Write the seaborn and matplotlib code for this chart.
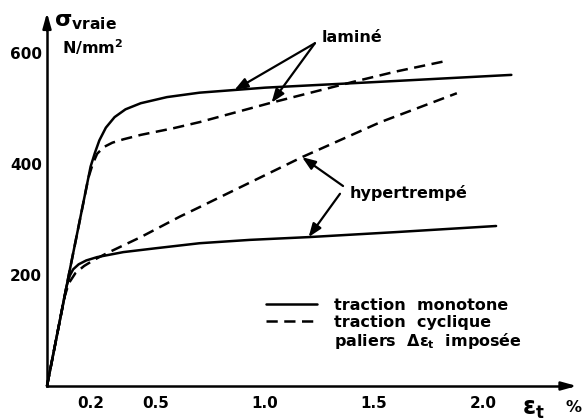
import numpy as np
import pandas as pd
import matplotlib
matplotlib.use("Agg")
import matplotlib.pyplot as plt
from matplotlib.lines import Line2D
import seaborn as sns

# Courbes de traction (eps en %, sigma en N/mm2)
lam_mono_x = [0, 0.10, 0.20, 0.22, 0.24, 0.27, 0.31, 0.36, 0.43, 0.55, 0.70, 1.00, 1.50, 2.13]
lam_mono_y = [0, 200, 395, 420, 442, 465, 484, 498, 509, 520, 528, 537, 547, 560]

lam_cyc_x = [0, 0.10, 0.19, 0.21, 0.23, 0.26, 0.30, 0.35, 0.43, 0.58, 0.70, 1.02, 1.40, 1.60, 1.83]
lam_cyc_y = [0, 200, 375, 400, 418, 430, 438, 444, 452, 464, 475, 509, 547, 566, 585]

hyp_mono_x = [0, 0.09, 0.105, 0.12, 0.145, 0.18, 0.23, 0.35, 0.50, 0.70, 0.93, 1.20, 1.60, 2.06]
hyp_mono_y = [0, 180, 199, 210, 219, 226, 232, 241, 248, 257, 263, 268, 277, 288]

hyp_cyc_x = [0, 0.08, 0.10, 0.13, 0.17, 0.22, 0.28, 0.43, 0.61, 0.70, 1.17, 1.53, 1.88]
hyp_cyc_y = [0, 160, 185, 203, 216, 228, 240, 268, 305, 322, 412, 475, 527]

x_ticks = [0.2, 0.5, 1.0, 1.5, 2.0]
x_tick_labels = ["0.2", "0.5", "1.0", "1.5", "2.0"]
y_ticks = [200, 300, 400, 500, 600]
y_tick_labels = ["200", "", "400", "", "600"]

curves = [
    ("laminé", "monotone", lam_mono_x, lam_mono_y),
    ("laminé", "cyclique", lam_cyc_x, lam_cyc_y),
    ("hypertrempé", "monotone", hyp_mono_x, hyp_mono_y),
    ("hypertrempé", "cyclique", hyp_cyc_x, hyp_cyc_y),
]
rows = []
for mat, essai, xs, ys in curves:
    for x, y in zip(xs, ys):
        rows.append({"eps": x, "sigma": y, "courbe": mat + " " + essai, "essai": essai})
df = pd.DataFrame(rows)

sns.set_style("white")
plt.rcParams["font.family"] = ["DejaVu Sans"]
plt.rcParams["font.weight"] = "bold"
plt.rcParams["text.color"] = "black"
plt.rcParams["mathtext.fontset"] = "custom"
plt.rcParams["mathtext.rm"] = "DejaVu Sans:bold"
plt.rcParams["mathtext.it"] = "DejaVu Sans:bold"
plt.rcParams["mathtext.bf"] = "DejaVu Sans:bold"

W, H = 583, 420
fig = plt.figure(figsize=(W / 100, H / 100), dpi=100)
ax = fig.add_axes([0, 0, 1, 1])

# pixel mapping: x_px = 47 + 218*eps ; y_px = 386 - sigma/1.8
ax.set_xlim(-47 / 218, (W - 47) / 218)
ax.set_ylim(-(H - 386) * 1.8, 386 * 1.8)

dash = (4.5, 2.6)
sns.lineplot(data=df, x="eps", y="sigma", style="essai", units="courbe",
             estimator=None, sort=False, color="black", lw=1.8,
             dashes={"monotone": "", "cyclique": dash}, legend=False, ax=ax)

# axes with arrows
for s in ["top", "right"]:
    ax.spines[s].set_visible(False)
ax.spines["left"].set_position(("data", 0))
ax.spines["bottom"].set_position(("data", 0))
ax.spines["left"].set_bounds(0, 655)
ax.spines["bottom"].set_bounds(0, 2.40)
for s in ["left", "bottom"]:
    ax.spines[s].set_linewidth(1.8)
    ax.spines[s].set_color("black")
ahead = dict(arrowstyle="-|>,head_length=0.9,head_width=0.25", color="black", lw=1.8,
             shrinkA=0, shrinkB=0)
ax.annotate("", xy=(0, 672), xytext=(0, 640), arrowprops=ahead)
ax.annotate("", xy=(2.43, 0), xytext=(2.36, 0), arrowprops=ahead)

ax.set_xticks(x_ticks, x_tick_labels)
ax.set_yticks(y_ticks, y_tick_labels)
ax.tick_params(direction="inout", length=9, width=1.5, labelsize=11,
               colors="black", labelcolor="black")
ax.tick_params(axis="y", pad=-1)
ax.tick_params(axis="x", pad=3)
for lab in ax.get_xticklabels() + ax.get_yticklabels():
    lab.set_fontweight("bold")
ax.set_xlabel("")
ax.set_ylabel("")


def px(x, y):
    return x / W, 1 - y / H


ax.text(*px(54, 22), r"$σ_{vraie}$", transform=ax.transAxes, fontsize=16,
        va="center", ha="left")
ax.text(*px(62, 47), r"N/mm$^{2}$", transform=ax.transAxes, fontsize=11.5,
        va="center", ha="left", fontweight="bold")
ax.text(*px(522, 409), r"$ε_t$", transform=ax.transAxes, fontsize=17,
        va="center", ha="left")
ax.text(*px(566, 407), "%", transform=ax.transAxes, fontsize=11.5,
        va="center", ha="left", fontweight="bold")

# annotations
arrow = dict(arrowstyle="-|>,head_length=0.8,head_width=0.3", color="black", lw=1.6,
             shrinkA=0, shrinkB=0)
ax.text(1.261, 628, "laminé", fontsize=11.5, fontweight="bold", va="center", ha="left")
ax.annotate("", xy=(0.86, np.interp(0.86, lam_mono_x, lam_mono_y)), xytext=(1.229, 617),
            arrowprops=arrow)
ax.annotate("", xy=(1.03, np.interp(1.03, lam_cyc_x, lam_cyc_y)), xytext=(1.229, 617),
            arrowprops=arrow)
ax.text(1.39, 347, "hypertrempé", fontsize=11.5, fontweight="bold", va="center", ha="left")
ax.annotate("", xy=(1.17, np.interp(1.17, hyp_cyc_x, hyp_cyc_y)), xytext=(1.358, 360),
            arrowprops=arrow)
ax.annotate("", xy=(1.20, np.interp(1.20, hyp_mono_x, hyp_mono_y)), xytext=(1.344, 346),
            arrowprops=arrow)

# legend
handles = [Line2D([], [], color="black", lw=1.8),
           Line2D([], [], color="black", lw=1.8, dashes=dash),
           Line2D([], [], color="none")]
labels = ["traction  monotone", "traction  cyclique", r"paliers  $Δε_t$  imposée"]
leg = ax.legend(handles, labels, loc="upper left", bbox_to_anchor=px(266, 298),
                frameon=False, handlelength=3.2, handletextpad=1.05,
                labelspacing=0.1, borderpad=0, borderaxespad=0,
                prop={"weight": "bold", "size": 11.5})
for t in leg.get_texts():
    t.set_color("black")

fig.savefig("out.png", dpi=100)
